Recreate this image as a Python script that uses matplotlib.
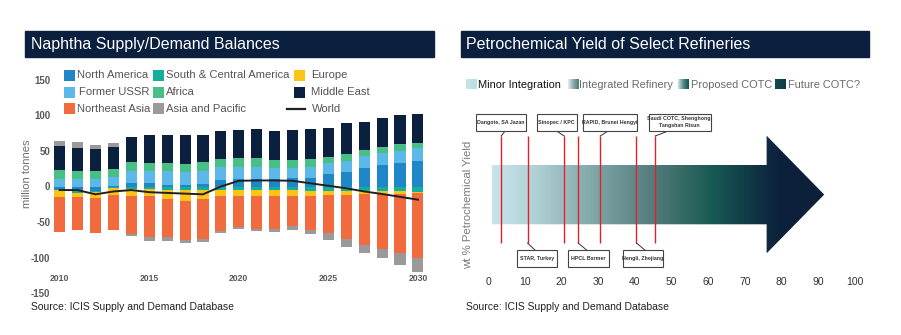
import numpy as np
import matplotlib
matplotlib.use("Agg")
import matplotlib.pyplot as plt
from matplotlib.patches import Rectangle, Polygon
from matplotlib.colors import LinearSegmentedColormap

plt.rcParams['font.family'] = ['Liberation Sans', 'DejaVu Sans']

# ---------------- data: left chart ----------------
years = list(range(2010, 2031))
north_america = [-4.5, -7, -6, 1, 4.5, 5.5, 2, 2, 3.5, 9.5, 11, 11, 11, 11.5, 11.5, 17, 21, 25.5, 29.5, 32.5, 36.5]
south_central_america = [-1, -1.5, -2, -2.5, -3.5, -4, -5, -5.5, -5.5, -5.5, -5.5, -5.5, -5.5, -5.5, -6.5, -6.5, -6.5, -6.5, -6.5, -6.5, -7.5]
europe = [-9, -6.5, -8.5, -9.5, -9.5, -9, -13, -14.5, -12.5, -7.5, -7.5, -7.5, -7.5, -7.5, -6.5, -5.5, -5.5, -4, -4, -4, -2]
former_ussr = [11, 10.5, 10.5, 12.5, 17, 16.5, 19.5, 18.5, 18.5, 17.5, 17, 17, 15, 14, 15.5, 15.5, 15.5, 17, 17, 18, 18]
africa = [11.5, 11.5, 11.5, 11, 12.5, 11.5, 11.5, 11.5, 12.5, 11, 12.5, 12.5, 11, 11.5, 11, 9.5, 9.5, 8.5, 8.5, 8.5, 7]
middle_east = [34, 32.5, 30.5, 31, 36, 38.5, 39, 40, 37.5, 40, 39, 40.5, 41, 42.5, 42.5, 40, 43.5, 40, 41.5, 41.5, 40.5]
northeast_asia = [-49, -46, -49, -49, -54, -57.5, -53.5, -54.5, -56, -49, -44.5, -46, -46, -42, -48, -54, -62, -71.5, -77.5, -82.5, -90.5]
asia_pacific = [8, 8, 5.5, 5.5, -3, -5.5, -5, -4.5, -4.5, -4, -2.5, -3.5, -4.5, -5.5, -6, -9, -11, -12, -12, -17.5, -19.5]
world = [-5, -5, -11, -7, -5, -8, -9, -10, -11, 0, 8, 8.5, 8.5, 8, 4.5, 1, -2.5, -7, -10.5, -14.5, -18.5]
year_tick_labels = ['2010', '2015', '2020', '2025', '2030']
y_ticks = [-150, -100, -50, 0, 50, 100, 150]

# ---------------- data: right chart ----------------
refinery_labels = ["Dangote, SA Jazan", "STAR, Turkey", "Sinopec / KPC", "HPCL Barmer",
                   "RAPID, Brunei Hengyi", "Hengli, Zhejiang", "Saudi COTC, Shenghong,\nTangshan Risun"]
refinery_yield = [3.5, 10.7, 20.7, 24.5, 30.5, 40.4, 45.5]
refinery_side = ['top', 'bottom', 'top', 'bottom', 'top', 'bottom', 'top']
stage_labels = ["Minor Integration", "Integrated Refinery", "Proposed COTC", "Future COTC?"]
yield_ticks = list(range(0, 101, 10))

# ---------------- styling ----------------
NAVY = '#0b1f3e'
colors = {
    'North America': '#1f86c8', 'South & Central America': '#14ae9c', 'Europe': '#fcc515',
    'Former USSR': '#5bb8e8', 'Africa': '#48bf85', 'Middle East': '#0b1f3e',
    'Northeast Asia': '#f26b3f', 'Asia and Pacific': '#9a9a9a',
}
series = [('North America', north_america), ('South & Central America', south_central_america),
          ('Europe', europe), ('Former USSR', former_ussr), ('Africa', africa),
          ('Middle East', middle_east), ('Northeast Asia', northeast_asia),
          ('Asia and Pacific', asia_pacific)]

W, H = 901, 335
fig = plt.figure(figsize=(W / 100, H / 100), dpi=100)
ov = fig.add_axes([0, 0, 1, 1])
ov.axis('off')

def fx(px):
    return px / W

def fy(py):
    return 1 - py / H

# banners
ov.add_patch(Rectangle((25, 31), 409, 26, color=NAVY))
ov.text(31, 44.5, 'Naphtha Supply/Demand Balances', color='white', fontsize=11.5, va='center')
ov.add_patch(Rectangle((461, 31), 408, 26, color=NAVY))
ov.text(466, 44.5, 'Petrochemical Yield of Select Refineries', color='white', fontsize=11.5, va='center')

# sources
ov.text(31, 307.5, 'Source: ICIS Supply and Demand Database', fontsize=7.5, va='center', color='#222222')
ov.text(466, 307.5, 'Source: ICIS Supply and Demand Database', fontsize=7.5, va='center', color='#222222')

# ---------------- left chart ----------------
ax = fig.add_axes([fx(51.6), fy(293.3), (426 - 51.6) / W, (293.3 - 79.7) / H])
for s in ['top', 'right', 'left']:
    ax.spines[s].set_visible(False)
ax.spines['bottom'].set_position(('data', -120))
ax.spines['bottom'].set_visible(False)

x = np.arange(len(years))
pos_base = np.zeros(len(years))
neg_base = np.zeros(len(years))
for name, vals in series:
    v = np.array(vals, dtype=float)
    base = np.where(v >= 0, pos_base, neg_base)
    ax.bar(x, v, bottom=base, width=0.62, color=colors[name], linewidth=0)
    pos_base += np.clip(v, 0, None)
    neg_base += np.clip(v, None, 0)
ax.plot(x, world, color='#231f20', lw=1.4, zorder=5)

ax.set_xlim(-0.45, len(years) - 0.55)
ax.set_ylim(-150, 150)
ax.set_yticks(y_ticks)
ax.set_yticklabels([str(t) for t in y_ticks], fontsize=7, fontweight='bold', color='#595959')
ax.set_xticks([years.index(int(t)) for t in year_tick_labels])
ax.set_xticklabels(year_tick_labels, fontsize=6.2, fontweight='bold', color='#595959')
ax.tick_params(axis='both', length=0)
ax.tick_params(axis='y', pad=1)
ax.tick_params(axis='x', pad=1.5)
ax.patch.set_alpha(0)
ax.set_ylabel('million tonnes', fontsize=8, color='#707070')
ax.yaxis.set_label_coords((32 - 51.6) / (426 - 51.6), 0.559)

# left legend (manual placement)
leg_rows = [75, 92, 108.5]
leg_cols = [64, 153, 294]
leg_layout = [['North America', 'South & Central America', 'Europe'],
              ['Former USSR', 'Africa', 'Middle East'],
              ['Northeast Asia', 'Asia and Pacific', 'World']]
for r, row in enumerate(leg_layout):
    for c, name in enumerate(row):
        yy = leg_rows[r]
        xx = leg_cols[c]
        if name == 'World':
            ov.plot([287, 305], [yy, yy], color='#231f20', lw=1.6)
            tx = 312
        else:
            ov.add_patch(Rectangle((xx, yy - 5.5), 11, 11, color=colors[name], lw=0))
            tx = xx + 13 if c < 2 else xx + 17
            if name == 'Former USSR':
                tx = xx + 15
        ov.text(tx, yy, name, fontsize=8.1, va='center', color='#555555')

# ---------------- right chart ----------------
px_per_unit = 3.667
x0_px = 488.3
rl, rr = 476, 870
rt, rb = 108, 270
rax = fig.add_axes([fx(rl), fy(rb), (rr - rl) / W, (rb - rt) / H])
xlim = ((rl - x0_px) / px_per_unit, (rr - x0_px) / px_per_unit)

arrow_cmap = LinearSegmentedColormap.from_list('arrow', [
    (0.0, '#c8e4eb'), (0.109, '#b4d4da'), (0.229, '#96b9bc'), (0.331, '#78a0a0'),
    (0.48, '#557d7d'), (0.581, '#336963'), (0.661, '#195a55'), (0.74, '#13434a'),
    (0.83, '#0e2a40'), (0.87, '#0c213b'), (1.0, '#0c2039')])
grad = np.linspace(0, 1, 512).reshape(1, -1)
body_l, body_r, head_tip = 0.9, 75.9, 91.6
body_t, body_b = 165, 224.3
head_t, head_b, mid = 135.7, 253.3, 194.6
im = rax.imshow(grad, extent=[body_l, head_tip, head_b, head_t], cmap=arrow_cmap,
                aspect='auto', interpolation='bilinear')
arrow_pts = [(body_l, body_t), (body_r, body_t), (body_r, head_t), (head_tip, mid),
             (body_r, head_b), (body_r, body_b), (body_l, body_b)]
clip = Polygon(arrow_pts, closed=True, facecolor='none', edgecolor='none', transform=rax.transData)
rax.add_patch(clip)
im.set_clip_path(clip)

# red lines
rax.vlines(refinery_yield, 136, 243, color='#e4202b', lw=1.0, zorder=3)

# label boxes (layout)
box_center = [3.5, 13.3, 18.6, 27.3, 33.1, 42.2, 52.2]
box_width_px = [50, 40.6, 40, 41, 54, 40, 61.7]
leader_end = [4.6, 12.7, 18.6, 26.8, 32.7, 42.7, 49.1]
for lab, yv, side, bc, bw, le in zip(refinery_labels, refinery_yield, refinery_side,
                                     box_center, box_width_px, leader_end):
    wv = bw / px_per_unit
    if side == 'top':
        by0, by1 = 113.5, 131
        rax.plot([le, yv], [by1, 136], color='#333333', lw=0.7, zorder=4)
    else:
        by0, by1 = 250, 266.5
        rax.plot([yv, le], [243, by0], color='#333333', lw=0.7, zorder=4)
    rax.add_patch(Rectangle((bc - wv / 2, by0), wv, by1 - by0, facecolor='white',
                            edgecolor='#444444', lw=0.8, zorder=5))
    rax.text(bc, (by0 + by1) / 2, lab, fontsize=3.8, fontweight='bold', color='#333333',
             ha='center', va='center', zorder=6, linespacing=1.5)

rax.set_xlim(*xlim)
rax.set_ylim(rb, rt)
rax.set_xticks(yield_ticks)
rax.set_xticklabels([str(t) for t in yield_ticks], fontsize=7.5, color='#333333')
rax.set_yticks([])
rax.tick_params(axis='x', length=0, pad=5)
for s in rax.spines.values():
    s.set_visible(False)
rax.patch.set_alpha(0)

ov.text(468, 205, 'wt % Petrochemical Yield', rotation=90, fontsize=8.2, color='#7a7a7a',
        ha='center', va='center')

# right legend
leg_grad = np.linspace(0, 1, 64).reshape(1, -1)
patch_x = [466, 568, 678, 775]
text_x = [478, 579, 691, 788]
patch_cmaps = [
    LinearSegmentedColormap.from_list('p1', ['#c6e3e9', '#bcdde3']),
    LinearSegmentedColormap.from_list('p2', ['#e8eeee', '#8aa9a9', '#4f7a7a']),
    LinearSegmentedColormap.from_list('p3', ['#d5e3e2', '#4f8a85', '#15524d']),
    LinearSegmentedColormap.from_list('p4', ['#104f4c', '#0e3a45']),
]
for i, lab in enumerate(stage_labels):
    ov.imshow(leg_grad, extent=[patch_x[i], patch_x[i] + 10.5, 89.5, 80], cmap=patch_cmaps[i],
              aspect='auto', interpolation='bilinear')
    ov.text(text_x[i], 85, lab, fontsize=7.9, va='center',
            color='#111111' if i == 0 else '#6b6b6b')

ov.set_xlim(0, W)
ov.set_ylim(H, 0)

fig.savefig('out.png', dpi=100)
